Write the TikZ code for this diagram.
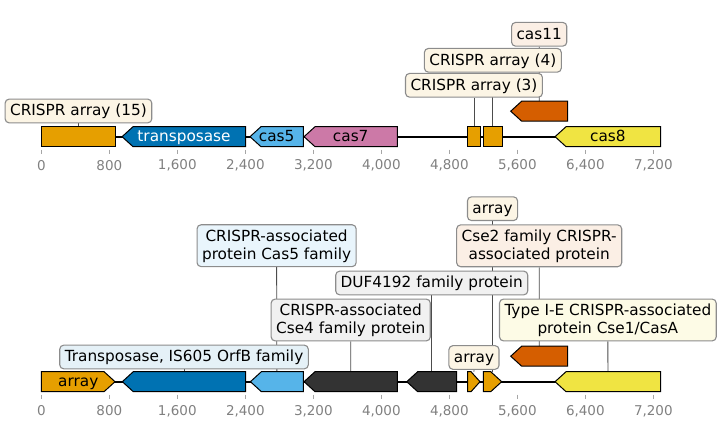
\documentclass[tikz,border=0pt]{standalone}
\usepackage{fontspec}
\setmainfont{DejaVu Sans}
\usetikzlibrary{backgrounds}

\definecolor{corange}{HTML}{E69F00}
\definecolor{cblue}{HTML}{0072B2}
\definecolor{csky}{HTML}{56B4E9}
\definecolor{cpink}{HTML}{CC79A7}
\definecolor{cverm}{HTML}{D55E00}
\definecolor{cyellow}{HTML}{F0E442}
\definecolor{cdark}{HTML}{333333}
\definecolor{tickgray}{HTML}{808080}

\newcommand{\lst}{\rule[-2.65pt]{0pt}{15.3pt}}
% left-pointing gene: start, end, y, colour, name
\newcommand{\lgene}[5]{%
  \filldraw[gene, fill=#4] (#1,#3) -- (#1+129,#3-10) -- (#2,#3-10) -- (#2,#3+10) -- (#1+129,#3+10) -- cycle;
  \coordinate (#5) at ({(#1+#2)/2},#3-10);}
% right-pointing gene: start, end, y, colour, name, head
\newcommand{\rgene}[6]{%
  \filldraw[gene, fill=#4] (#1,#3-10) -- (#2-#6,#3-10) -- (#2,#3) -- (#2-#6,#3+10) -- (#1,#3+10) -- cycle;
  \coordinate (#5) at ({(#1+#2)/2},#3-10);}

\tikzset{
  gene/.style={draw=black, line width=1pt, line join=miter},
  backbone/.style={draw=black, line width=2pt},
  lblbase/.style={draw=black!45, line width=1.1pt, rounded corners=4pt, inner xsep=5pt, inner ysep=4.2pt,
    font=\fontsize{15.3}{17.6}\selectfont},
  lbl/.style={lblbase, text height=12.65pt, text depth=2.65pt},
  lbltwo/.style={lblbase, align=center},
  inline/.style={inner sep=0pt, text height=10pt, text depth=0pt, font=\fontsize{15.3}{17.6}\selectfont},
  leader/.style={draw=black!70, line width=0.8pt},
  tick/.style={draw=tickgray!70, line width=0.9pt},
  ticklbl/.style={inner sep=0pt, text=tickgray, font=\fontsize{13.5}{16}\selectfont}
}

\begin{document}
\begin{tikzpicture}[x=0.085pt, y=-1pt]
\useasboundingbox (-486,0) rectangle (7996,428);

% top map
\coordinate (startT) at (0,136.7);
\coordinate (endT) at (7287,136.7);
\filldraw[gene, fill=corange] (0,126.7) rectangle (875,146.7);
\coordinate (fA15) at (437,126.7);
\lgene{950}{2405}{136.7}{cblue}{fTrT}
\lgene{2455}{3082}{136.7}{csky}{fC5T}
\lgene{3091}{4188}{136.7}{cpink}{fC7T}
\filldraw[gene, fill=corange] (5016,126.7) rectangle (5165,146.7);
\coordinate (fA3) at (5090,126.7);
\filldraw[gene, fill=corange] (5200,126.7) rectangle (5424,146.7);
\coordinate (fA4) at (5312,126.7);
\lgene{5522}{6193}{111.2}{cverm}{fC11T}
\lgene{6044}{7287}{136.7}{cyellow}{fC8T}

\node[inline, text=white] (tTr) at (1679,136.7) {transposase};
\node[inline] (tC5) at (2768,136.7) {cas5};
\node[inline] (tC7) at (3640,136.7) {cas7};
\node[inline] (tC8) at (6665,136.7) {cas8};

\node[lbl, fill=corange!10!white] (lA15) at (437,111) {CRISPR array (15)};
\node[lbl, fill=corange!10!white] (lA3) at (5090,85.3) {CRISPR array (3)};
\node[lbl, fill=corange!10!white] (lA4) at (5312,60.3) {CRISPR array (4)};
\node[lbl, fill=cverm!10!white] (lC11) at (5857,34.3) {cas11};

% bottom map
\coordinate (startB) at (0,381.7);
\coordinate (endB) at (7287,381.7);
\rgene{0}{867}{381.7}{corange}{fArr}{129}
\lgene{953}{2405}{381.7}{cblue}{fTrB}
\lgene{2460}{3082}{381.7}{csky}{fC5B}
\lgene{3091}{4188}{381.7}{cdark}{fC7B}
\lgene{4299}{4887}{381.7}{cdark}{fDUF}
\rgene{5016}{5161}{381.7}{corange}{fArrA}{106}
\rgene{5200}{5416}{381.7}{corange}{fArrB}{129}
\lgene{5522}{6193}{356.2}{cverm}{fC11B}
\lgene{6044}{7287}{381.7}{cyellow}{fC8B}

\node[inline] (tArr) at (435,381.7) {array};

\node[lbl, fill=cblue!10!white] (lTr) at (1679,357) {Transposase, IS605 OrfB family};
\node[lbltwo, fill=csky!13!white] (lC5) at (2768,245.7) {\lst CRISPR-associated\\\lst protein Cas5 family};
\node[lbltwo, fill=cdark!7!white] (lC7) at (3640,320) {\lst CRISPR-associated\\\lst Cse4 family protein};
\node[lbl, fill=cdark!7!white] (lDUF) at (4593,283) {DUF4192 family protein};
\node[lbl, fill=corange!10!white] (lArrA) at (5090,357.5) {array};
\node[lbl, fill=corange!10!white] (lArrB) at (5308,208.7) {array};
\node[lbltwo, fill=cverm!10!white] (lC11B) at (5857,245.8) {\lst Cse2 family CRISPR-\\\lst associated protein};
\node[lbltwo, fill=cyellow!13!white] (lC8B) at (6665,320) {\lst Type I-E CRISPR-associated\\\lst protein Cse1/CasA};

% axes
\foreach \t/\s in {0/0, 800/800, 1600/{1,600}, 2400/{2,400}, 3200/{3,200}, 4000/{4,000}, 4800/{4,800}, 5600/{5,600}, 6400/{6,400}, 7200/{7,200}} {
  \draw[tick] (\t,149.7) -- (\t,153.7);
  \node[ticklbl] (kT\t) at (\t,165.7) {\s};
  \draw[tick] (\t,394.7) -- (\t,398.7);
  \node[ticklbl] (kB\t) at (\t,410.8) {\s};
}

\begin{pgfonlayer}{background}
\draw[backbone] (startT) -- (endT);
\draw[backbone] (startB) -- (endB);
\draw[leader] (lA15.south) -- (fA15);
\draw[leader] (lA3.south) -- (fA3);
\draw[leader] (lA4.south) -- (fA4);
\draw[leader] (lC11.south) -- (fC11T);
\draw[leader] (lTr.south) -- (fTrB);
\draw[leader] (lC5.south) -- (fC5B);
\draw[leader] (lC7.south) -- (fC7B);
\draw[leader] (lDUF.south) -- (fDUF);
\draw[leader] (lArrA.south) -- (fArrA);
\draw[leader] (lArrB.south) -- (fArrB);
\draw[leader] (lC11B.south) -- (fC11B);
\draw[leader] (lC8B.south) -- (fC8B);
\end{pgfonlayer}
\end{tikzpicture}
\end{document}
